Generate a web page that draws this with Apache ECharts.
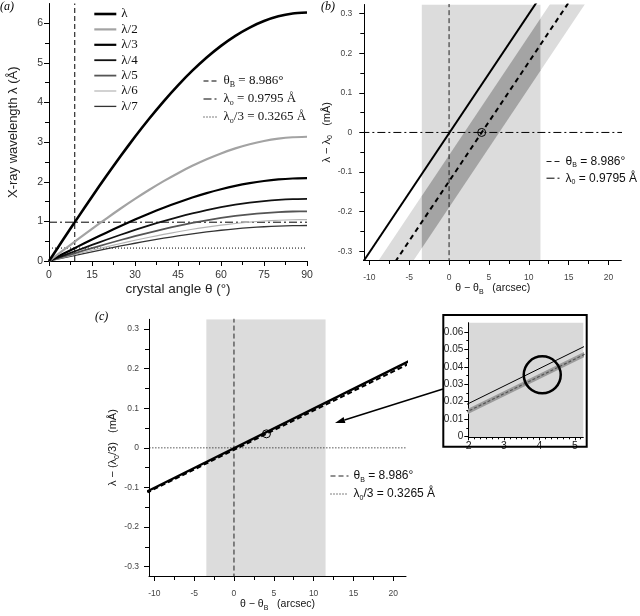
<!DOCTYPE html>
<html><head><meta charset="utf-8">
<script src="https://cdn.jsdelivr.net/npm/echarts@6/dist/echarts.min.js"></script>
<style>html,body{margin:0;padding:0;background:#fff}#c{width:640px;height:616px}</style>
</head><body><div id="c"></div>
<script>
// ---------- DATA ----------
// panel (a): wavelength vs crystal angle for harmonics
const thetaDeg = [0, 5, 10, 15, 20, 25, 30, 35, 40, 45, 50, 55, 60, 65, 70, 75, 80, 85, 90];
const lam1 = [0, 0.547, 1.089, 1.623, 2.145, 2.650, 3.136, 3.597, 4.031, 4.434, 4.804, 5.137, 5.431, 5.684, 5.893, 6.057, 6.176, 6.247, 6.271];
const lam2 = [0, 0.273, 0.545, 0.812, 1.072, 1.325, 1.568, 1.798, 2.016, 2.217, 2.402, 2.568, 2.715, 2.842, 2.946, 3.029, 3.088, 3.124, 3.136];
const lam3 = [0, 0.182, 0.363, 0.541, 0.715, 0.883, 1.045, 1.199, 1.344, 1.478, 1.601, 1.712, 1.810, 1.895, 1.964, 2.019, 2.059, 2.082, 2.090];
const lam4 = [0, 0.137, 0.272, 0.406, 0.536, 0.663, 0.784, 0.899, 1.008, 1.109, 1.201, 1.284, 1.358, 1.421, 1.473, 1.514, 1.544, 1.562, 1.568];
const lam5 = [0, 0.109, 0.218, 0.325, 0.429, 0.530, 0.627, 0.719, 0.806, 0.887, 0.961, 1.027, 1.086, 1.137, 1.179, 1.211, 1.235, 1.249, 1.254];
const lam6 = [0, 0.091, 0.182, 0.271, 0.358, 0.442, 0.523, 0.600, 0.672, 0.739, 0.801, 0.856, 0.905, 0.947, 0.982, 1.010, 1.029, 1.041, 1.045];
const lam7 = [0, 0.078, 0.156, 0.232, 0.306, 0.379, 0.448, 0.514, 0.576, 0.633, 0.686, 0.734, 0.776, 0.812, 0.842, 0.865, 0.882, 0.892, 0.896];
const harmonicNames = ['λ', 'λ/2', 'λ/3', 'λ/4', 'λ/5', 'λ/6', 'λ/7'];
const thetaB = 8.986;
const lambda0 = 0.9795;
const lambda0third = 0.3265;
const aXTicks = [0, 15, 30, 45, 60, 75, 90];
const aXMinor = [7.5, 22.5, 37.5, 52.5, 67.5, 82.5];
const aYTicks = [0, 1, 2, 3, 4, 5, 6];
const aYMinor = [0.5, 1.5, 2.5, 3.5, 4.5, 5.5];

// panel (b): first order, lambda - lambda0 (mÅ) vs theta - thetaB (arcsec)
const solidBx = [-11, 11];
const solidBy = [-0.3331, 0.3291];
const dashedBx = [-8, 16];
const dashedBy = [-0.3641, 0.3582];
const bandBx = [-12, 22];
const bandBlow = [-0.5503, 0.4731];
const bandBhigh = [-0.4183, 0.6051];
const darkBx = [-3.42, 11.46];
const darkBlow = [-0.2922, 0.1558];
const darkBhigh = [-0.1602, 0.2878];
const rectB = [-3.42, 11.46];
const circleB = [4.09, 0];
const bXTicks = [-10, -5, 0, 5, 10, 15, 20];
const bXMinor = [-7.5, -2.5, 2.5, 7.5, 12.5, 17.5];
const bYTicks = [-0.3, -0.2, -0.1, 0, 0.1, 0.2, 0.3];
const bYMinor = [-0.25, -0.15, -0.05, 0.05, 0.15, 0.25];

// panel (c): third order, lambda - lambda0/3 (mÅ)
const solidCx = [-11, 22];
const solidCy = [-0.111, 0.219];
const dashedCx = [-11, 22];
const dashedCy = [-0.1139, 0.2128];
const rectC = [-3.47, 11.5];
const circleC = [4.08, 0.0354];
const cXTicks = [-10, -5, 0, 5, 10, 15, 20];
const cXMinor = [-7.5, -2.5, 2.5, 7.5, 12.5, 17.5];
const cYTicks = [-0.3, -0.2, -0.1, 0, 0.1, 0.2, 0.3];
const cYMinor = [-0.25, -0.15, -0.05, 0.05, 0.15, 0.25];

// inset (zoom of panel c)
const solidIx = [1.9, 5.4];
const solidIy = [0.018, 0.053];
const dashedIx = [1.9, 5.4];
const dashedIy = [0.0137, 0.0484];
const bandIlow = [0.0122, 0.0469];
const bandIhigh = [0.0152, 0.0499];
const circleI = [4.08, 0.0354];
const iXTicks = [2, 3, 4, 5];
const iXMinor = [2.1667, 2.3333, 2.5, 2.6667, 2.8333, 3.1667, 3.3333, 3.5, 3.6667, 3.8333,
                 4.1667, 4.3333, 4.5, 4.6667, 4.8333, 5.1667];
const iYTicks = [0, 0.01, 0.02, 0.03, 0.04, 0.05, 0.06];
const iYMinor = [0.005, 0.015, 0.025, 0.035, 0.045, 0.055];

// ---------- CHART ----------
const SANS = '"Liberation Sans", Arial, sans-serif';
const SERIF = '"Liberation Serif", "Times New Roman", serif';
const chart = echarts.init(document.getElementById('c'), null, {renderer: 'canvas'});
const pts = (xs, ys) => xs.map((x, i) => [x, ys[i]]);

function axisPair(dim, g, min, max, major, minor, cfg) {
  const pos = dim === 'x' ? 'bottom' : 'left';
  const main = {
    type: 'value', gridIndex: g, min: min, max: max, position: pos,
    axisLine: {show: true, onZero: false, lineStyle: {color: '#000', width: 1}},
    axisTick: {show: true, inside: false, length: cfg.tickLen || 5, customValues: major, lineStyle: {color: '#000', width: 1}},
    axisLabel: {show: true, customValues: major, margin: cfg.margin, fontSize: cfg.fontSize, color: cfg.color || '#333', fontFamily: SANS},
    splitLine: {show: false},
    name: cfg.name || '', nameLocation: 'middle', nameGap: cfg.nameGap || 0,
    nameTextStyle: cfg.nameTextStyle || {}
  };
  const mi = {
    type: 'value', gridIndex: g, min: min, max: max, position: pos, offset: 0,
    axisLine: {show: false, onZero: false},
    axisTick: {show: true, inside: false, length: cfg.minorLen || 3, customValues: minor, lineStyle: {color: '#000', width: 1}},
    axisLabel: {show: false}, splitLine: {show: false}
  };
  return [main, mi];
}

const subRich = (fs, fam, lh) => ({
  t: {fontSize: fs, fontFamily: fam, color: '#111', lineHeight: lh},
  s: {fontSize: Math.round(fs * 0.62), fontFamily: fam, color: '#111', verticalAlign: 'bottom', lineHeight: 6}
});

const xAxes = [].concat(
  axisPair('x', 0, 0, 90, aXTicks, aXMinor, {margin: 9, fontSize: 10.5, tickLen: 5, minorLen: 4,
    name: 'crystal angle θ (°)', nameGap: 21, nameTextStyle: {fontSize: 13.5, fontFamily: SANS, color: '#222'}}),
  axisPair('x', 1, -10.63, 21.6, bXTicks, bXMinor, {margin: 13, fontSize: 8.5, color: '#444', tickLen: 5, minorLen: 4,
    name: '{t|θ − θ}{s|B}{t|   (arcsec)}', nameGap: 21,
    nameTextStyle: {fontSize: 10.5, fontFamily: SANS, color: '#222', rich: subRich(10.5, SANS, 14)}}),
  axisPair('x', 2, -10.67, 21.6, cXTicks, cXMinor, {margin: 13, fontSize: 8.5, color: '#444', tickLen: 5, minorLen: 4,
    name: '{t|θ − θ}{s|B}{t|   (arcsec)}', nameGap: 20,
    nameTextStyle: {fontSize: 10.5, fontFamily: SANS, color: '#222', rich: subRich(10.5, SANS, 14)}}),
  axisPair('x', 3, 1.99, 5.24, iXTicks, iXMinor, {margin: 3, fontSize: 10.5, color: '#222', tickLen: 3, minorLen: 2})
);
const yAxes = [].concat(
  axisPair('y', 0, 0, 6.5, aYTicks, aYMinor, {margin: 6, fontSize: 10.5, tickLen: 5, minorLen: 4,
    name: 'X-ray wavelength λ (Å)', nameGap: 29, nameTextStyle: {fontSize: 13, fontFamily: SANS, color: '#222'}}),
  axisPair('y', 1, -0.322, 0.323, bYTicks, bYMinor, {margin: 12, fontSize: 8.5, color: '#444', tickLen: 5, minorLen: 4,
    name: '{t|λ − λ}{s|0}{t|   (mÅ)}', nameGap: 29,
    nameTextStyle: {fontSize: 11, fontFamily: SANS, color: '#222', rich: subRich(11, SANS, 14)}}),
  axisPair('y', 2, -0.3235, 0.3245, cYTicks, cYMinor, {margin: 10, fontSize: 8.5, color: '#444', tickLen: 5, minorLen: 4,
    name: '{t|λ − (λ}{s|0}{t|/3)   (mÅ)}', nameGap: 23,
    nameTextStyle: {fontSize: 11, fontFamily: SANS, color: '#222', rich: subRich(11, SANS, 14)}}),
  axisPair('y', 3, -0.0004, 0.0653, iYTicks, iYMinor, {margin: 5, fontSize: 10, color: '#222', tickLen: 4, minorLen: 2})
);

const ax = g => ({xAxisIndex: 2 * g, yAxisIndex: 2 * g});
const base = {type: 'line', symbol: 'none', showSymbol: false, silent: true, emphasis: {disabled: true}, animation: false};
function line(g, name, data, color, width, type, z) {
  return Object.assign({}, base, ax(g), {name: name, data: data, z: z || 3,
    lineStyle: {color: color, width: width, type: type || 'solid'}, itemStyle: {color: color}});
}
function circle(g, p, size, bw) {
  return Object.assign({}, ax(g), {type: 'scatter', silent: true, animation: false, z: 10,
    data: [p], symbol: 'circle', symbolSize: size, emphasis: {disabled: true},
    itemStyle: {color: 'rgba(0,0,0,0)', borderColor: '#000', borderWidth: bw, opacity: 1}});
}
// band (parallelogram) between a low and a high edge, drawn through the axes' scales
function band(g, name, xs, low, high, color, z) {
  return Object.assign({}, ax(g), {type: 'custom', name: name, silent: true, animation: false, clip: true, z: z,
    data: [[xs[0], low[0], high[0], xs[1], low[1], high[1]]],
    encode: {x: [0, 3], y: [1, 2, 4, 5]},
    renderItem: (params, api) => {
      const p = [
        api.coord([api.value(0), api.value(1)]),
        api.coord([api.value(3), api.value(4)]),
        api.coord([api.value(3), api.value(5)]),
        api.coord([api.value(0), api.value(2)])
      ];
      return {type: 'polygon', shape: {points: p}, style: {fill: color, stroke: null}};
    }});
}
// vertical full-height rectangle between two x values
function vrect(g, name, xr, color, z) {
  return Object.assign({}, ax(g), {type: 'custom', name: name, silent: true, animation: false, clip: true, z: z,
    data: [[xr[0], xr[1]]], encode: {x: [0, 1]},
    renderItem: (params, api) => {
      const cs = params.coordSys;
      const x0 = api.coord([api.value(0), 0])[0];
      const x1 = api.coord([api.value(1), 0])[0];
      return {type: 'rect', shape: {x: x0, y: cs.y, width: x1 - x0, height: cs.height}, style: {fill: color}};
    }});
}

const harmonics = [lam1, lam2, lam3, lam4, lam5, lam6, lam7];
const hColors = ['#000', '#a3a3a3', '#000', '#111', '#555', '#b4b4b4', '#333'];
const hWidths = [2.6, 2.2, 2.2, 1.8, 1.8, 1.2, 1.3];

const series = [];
// panel (a)
harmonics.forEach((arr, i) => {
  const s = line(0, harmonicNames[i], pts(thetaDeg, arr), hColors[i], hWidths[i], 'solid', 5 + (7 - i));
  s.smooth = 0.2;
  series.push(s);
});
series.push(line(0, 'θB_a', [[thetaB, 0], [thetaB, 6.5]], '#000', 1, [5, 3], 4));
series.push(line(0, 'λ0_a', [[0, lambda0], [90, lambda0]], '#000', 1, [8, 3, 2, 3], 4));
series.push(line(0, 'λ0/3_a', [[0, lambda0third], [90, lambda0third]], '#000', 1, [1, 2], 4));

// panel (b)
series.push(vrect(1, 'rectB', rectB, '#dcdcdc', 1));
series.push(band(1, 'bandB', bandBx, bandBlow, bandBhigh, '#dcdcdc', 2));
series.push(band(1, 'darkB', darkBx, darkBlow, darkBhigh, '#a4a4a4', 2.5));
series.push(line(1, 'θB_b', [[0, -0.33], [0, 0.33]], '#222', 1, [5, 3], 4));
series.push(line(1, 'λ0_b', [[-11, 0], [22, 0]], '#000', 1, [8, 3, 2, 3], 4));
series.push(line(1, 'solidB', pts(solidBx, solidBy), '#000', 2, 'solid', 6));
series.push(line(1, 'dashedB', pts(dashedBx, dashedBy), '#000', 2, [5, 4], 6));
series.push(circle(1, circleB, 8, 1));

// panel (c)
series.push(vrect(2, 'rectC', rectC, '#dcdcdc', 1));
series.push(line(2, 'θB_c', [[0, -0.33], [0, 0.33]], '#222', 1, [5, 3], 4));
series.push(line(2, 'λ0/3_c', [[-11, 0], [22, 0]], '#000', 1, [1, 2], 4));
series.push(line(2, 'solidC', pts(solidCx, solidCy), '#000', 2.4, 'solid', 6));
series.push(line(2, 'dashedC', pts(dashedCx, dashedCy), '#000', 2, [5, 3], 6));
series.push(circle(2, circleC, 8, 1));

// inset
series.push(band(3, 'bandI', dashedIx, bandIlow, bandIhigh, '#9c9c9c', 2));
series.push(line(3, 'dashedI', pts(dashedIx, dashedIy), '#555', 1.2, [3, 2], 5));
series.push(line(3, 'solidI', pts(solidIx, solidIy), '#000', 1, 'solid', 5));
series.push(circle(3, circleI, 37, 2.5));

const legendText = {
  'θB_a': `{t|θ}{s|B}{t| = ${thetaB}°}`,
  'λ0_a': `{t|λ}{s|o}{t| = ${lambda0} Å}`,
  'λ0/3_a': `{t|λ}{s|o}{t|/3 = ${lambda0third} Å}`,
  'θB_b': `{t|θ}{s|B}{t| = ${thetaB}°}`,
  'λ0_b': `{t|λ}{s|0}{t| = ${lambda0} Å}`,
  'θB_c': `{t|θ}{s|B}{t| = ${thetaB}°}`,
  'λ0/3_c': `{t|λ}{s|0}{t|/3 = ${lambda0third} Å}`
};
const fmt = n => legendText[n] || n;
const legendBase = {orient: 'vertical', selectedMode: false,
  lineStyle: {width: 'inherit'}, itemStyle: {opacity: 0, color: 'rgba(0,0,0,0)', borderColor: 'rgba(0,0,0,0)', borderWidth: 0},
  formatter: fmt, padding: 0};

const option = {
  animation: false,
  backgroundColor: '#fff',
  grid: [
    {left: 49, top: 3.5, width: 258, height: 257.5},
    {left: 364.3, top: 4.5, width: 257, height: 255.5},
    {left: 149, top: 319.3, width: 257, height: 256.7},
    {left: 468.3, top: 322.7, width: 115, height: 114.6, show: true, backgroundColor: '#d9d9d9', borderWidth: 0}
  ],
  xAxis: xAxes,
  yAxis: yAxes,
  legend: [
    Object.assign({}, legendBase, {data: harmonicNames, left: 93, top: 6.5, itemWidth: 22, itemHeight: 8, itemGap: 0.4,
      textStyle: {fontFamily: SERIF, fontSize: 13, lineHeight: 15, color: '#111'}}),
    Object.assign({}, legendBase, {data: ['θB_a', 'λ0_a', 'λ0/3_a'], left: 203, top: 73, itemWidth: 15, itemHeight: 8, itemGap: 2,
      textStyle: {fontFamily: SERIF, fontSize: 13, lineHeight: 16, color: '#111', rich: subRich(13, SERIF, 16)}}),
    Object.assign({}, legendBase, {data: ['θB_b', 'λ0_b'], left: 546, top: 154, itemWidth: 14, itemHeight: 8, itemGap: 1.7,
      textStyle: {fontFamily: SANS, fontSize: 12, lineHeight: 15, color: '#111', rich: subRich(12, SANS, 15)}}),
    Object.assign({}, legendBase, {data: ['θB_c', 'λ0/3_c'], left: 330, top: 468, itemWidth: 18, itemHeight: 8, itemGap: 2,
      textStyle: {fontFamily: SANS, fontSize: 12, lineHeight: 16, color: '#111', rich: subRich(12, SANS, 16)}})
  ],
  graphic: [
    {type: 'text', left: 0, top: 1, style: {text: '(a)', font: 'italic 12px "Liberation Serif", serif', fill: '#000'}},
    {type: 'text', left: 321, top: 1, style: {text: '(b)', font: 'italic 12px "Liberation Serif", serif', fill: '#000'}},
    {type: 'text', left: 95, top: 311, style: {text: '(c)', font: 'italic 12px "Liberation Serif", serif', fill: '#000'}},
    {type: 'line', shape: {x1: 443, y1: 389, x2: 344.5, y2: 420}, style: {stroke: '#000', lineWidth: 1.5}},
    {type: 'polygon', shape: {points: [[335, 423], [345.4, 422.9], [343.6, 417.1]]}, style: {fill: '#000'}},
    {type: 'rect', z: 100, shape: {x: 443.3, y: 315, width: 143.4, height: 131.7}, style: {fill: 'none', stroke: '#000', lineWidth: 2}}
  ],
  series: series
};
chart.setOption(option);
</script></body></html>
